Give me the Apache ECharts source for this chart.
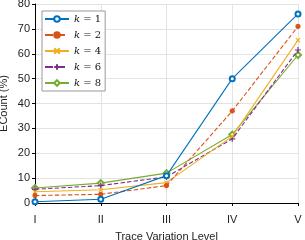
<!DOCTYPE html>
<html><head><meta charset="utf-8">
<script src="https://cdn.jsdelivr.net/npm/echarts@6/dist/echarts.min.js"></script>
<style>html,body{margin:0;padding:0;background:#fff}#c{width:305px;height:240px}</style>
</head><body><div id="c"></div>
<script>
const categories = ['I','II','III','IV','V'];
const k1 = [0.5, 1.5, 11, 50, 76];
const k2 = [3, 3.5, 7, 37, 71];
const k4 = [4.5, 5.3, 8.2, 26.8, 65.5];
const k6 = [5.5, 7, 10.5, 25.8, 61.5];
const k8 = [6, 8, 12, 27.5, 59.5];
const seriesNames = ['k = 1','k = 2','k = 4','k = 6','k = 8'];
const yTicks = [0,10,20,30,40,50,60,70,80];

const colors = ['#0072BD','#D95319','#EDB120','#7E2F8E','#77AC30'];
const xPath = 'path://M0,0 L10,10 M10,0 L0,10';
const plusPath = 'path://M5,0 L5,10 M0,5 L10,5';
const symbols = ['emptyCircle','circle', xPath, plusPath, 'emptyDiamond'];
const sizes = [5,4,4,6,6];
const types = ['solid','dashed','solid','dashed','solid'];
const data = [k1,k2,k4,k6,k8];

const chart = echarts.init(document.getElementById('c'), null, {renderer:'canvas'});
chart.setOption({
  animation:false,
  color: colors,
  grid:{left:35, right:7, top:4, bottom:37, outerBoundsMode:'none', containLabel:false},
  legend:{
    left:42, top:11, orient:'vertical',
    itemWidth:24, itemHeight:7, itemGap:6,
    padding:[3,4,3,2],
    borderColor:'#999', borderWidth:1, backgroundColor:'#fff',
    textStyle:{fontFamily:'DejaVu Serif', fontSize:10, color:'#111',
      rich:{i:{fontFamily:'DejaVu Serif', fontStyle:'italic', fontSize:10, color:'#111'}}},
    formatter: n => '{i|k} ' + n.slice(2)
  },
  xAxis:{
    type:'category', data:categories, boundaryGap:false,
    name:'Trace Variation Level', nameLocation:'middle', nameGap:28, nameMoveOverlap:false,
    nameTextStyle:{fontFamily:'Liberation Sans', fontSize:11, color:'#222'},
    axisLine:{lineStyle:{color:'#000', width:1}},
    axisTick:{show:true, alignWithLabel:true, length:3, lineStyle:{color:'#000'}},
    axisLabel:{fontFamily:'Liberation Sans', fontSize:11, color:'#222', margin:11},
    splitLine:{show:true, lineStyle:{color:'#e3e3e3'}}
  },
  yAxis:{
    type:'value', min:0, max:80, interval:10,
    name:'ECount (%)', nameLocation:'middle', nameGap:26, nameMoveOverlap:false,
    nameTextStyle:{fontFamily:'Liberation Sans', fontSize:11, color:'#222'},
    axisLine:{show:true, lineStyle:{color:'#000', width:1}},
    axisTick:{show:true, length:3, lineStyle:{color:'#000'}},
    axisLabel:{fontFamily:'Liberation Sans', fontSize:11, color:'#222', margin:5,
      formatter: v => yTicks.includes(v) ? String(v) : ''},
    splitLine:{show:true, lineStyle:{color:'#e3e3e3'}}
  },
  series: data.map((d,i)=>({
    name: seriesNames[i], type:'line', data:d,
    symbol: symbols[i], symbolSize: sizes[i], showAllSymbol:true,
    lineStyle:{width:1.1, type:types[i], color:colors[i]},
    itemStyle:{color:colors[i], borderColor:colors[i], borderWidth:1.2},
    z: 10 - i
  }))
});
</script></body></html>
